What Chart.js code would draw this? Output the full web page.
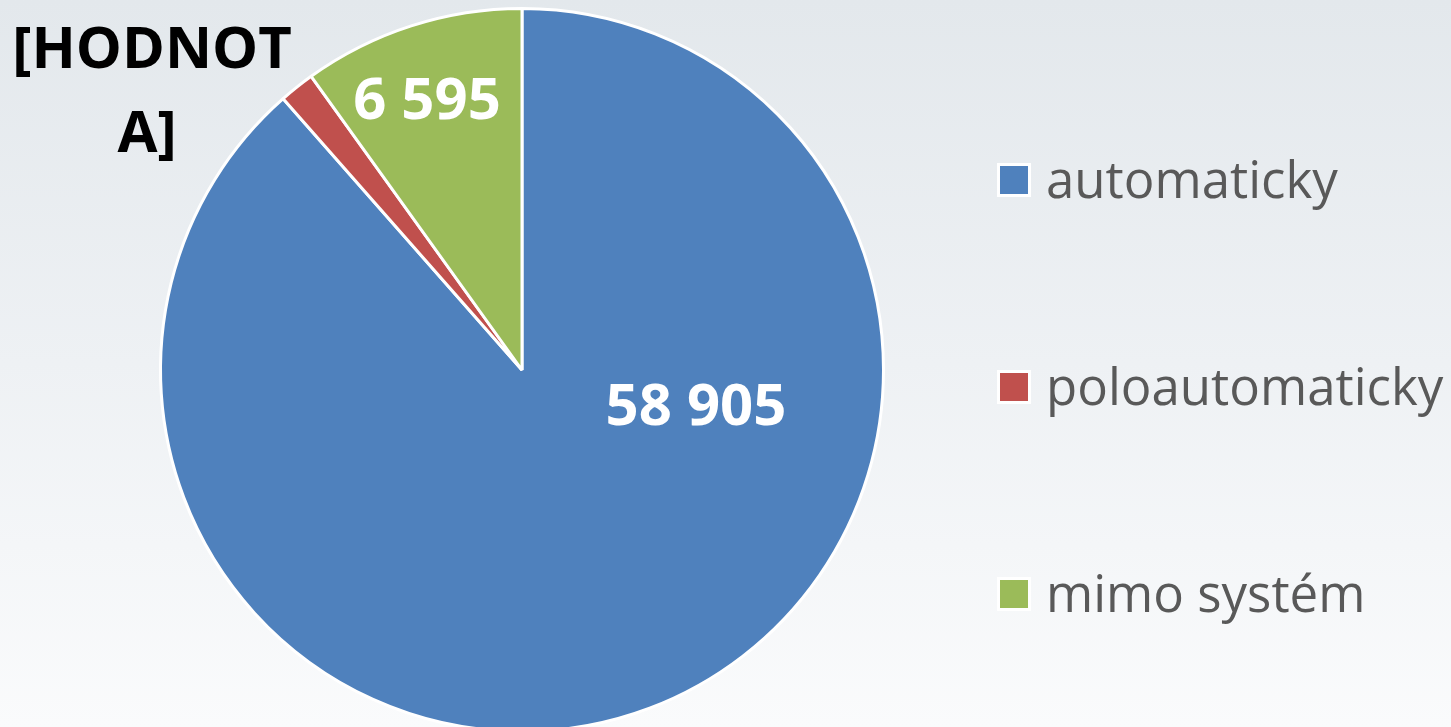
<!DOCTYPE html>
<html>
<head>
<meta charset="utf-8">
<script src="https://cdn.jsdelivr.net/npm/chart.js@4.4.1/dist/chart.umd.min.js"></script>
<style>
  html, body { margin: 0; padding: 0; overflow: hidden; }
  body {
    width: 1451px;
    height: 727px;
    background: linear-gradient(to bottom, #e3e8ec 0%, #eef1f4 50%, #fafbfc 100%);
  }
  .wrap { width: 1451px; height: 735px; }
</style>
</head>
<body>
<div class="wrap"><canvas class="pie-chart" width="1451" height="735"></canvas></div>
<script>
const categories = ["automaticky", "poloautomaticky", "mimo systém"];
const values = [58905, 1050, 6595];
// Excel shows a placeholder instead of the red slice value
const valueLabels = ["58 905", "[HODNOTA]", "6 595"];
const colors = ["#4f81bd", "#c0504d", "#9bbb59"];

document.addEventListener("DOMContentLoaded", () => {
  let ctx = document.querySelector(".pie-chart").getContext("2d");

  // label placement, offsets from pie centre
  const labelSpots = [
    { dx: 174, dy: 36, font: "bold 58px 'Open Sans'", color: "#ffffff", lines: ["58 905"] },
    { dx: -370, dy: -302, font: "bold 58px 'Open Sans'", color: "#000000", lines: ["[HODNOT", "A]"], lineH: 84 },
    { dx: -95, dy: -270, font: "bold 58px 'Open Sans'", color: "#ffffff", lines: ["6 595"] },
  ];

  const pieLabels = {
    id: "pieLabels",
    afterDatasetsDraw(chart) {
      const c = chart.ctx;
      const meta = chart.getDatasetMeta(0);
      meta.data.forEach((arc, i) => {
        const spot = labelSpots[i];
        c.save();
        c.font = spot.font;
        c.fillStyle = spot.color;
        c.textAlign = "center";
        if (spot.lines.length === 1) {
          c.textBaseline = "middle";
          c.fillText(valueLabels[i], arc.x + spot.dx, arc.y + spot.dy + 2);
        } else {
          c.textBaseline = "alphabetic";
          spot.lines.forEach((ln, k) => {
            c.fillText(ln, arc.x + spot.dx + (k === 0 ? 0 : -5), arc.y + spot.dy + k * spot.lineH);
          });
        }
        c.restore();
      });
    },
  };

  const sideLegend = {
    id: "sideLegend",
    afterDraw(chart) {
      const c = chart.ctx;
      const x0 = 997;
      const baseY = 198;
      const step = 207;
      c.save();
      categories.forEach((name, i) => {
        const y = baseY + i * step;
        const top = y - 35;
        c.fillStyle = "#ffffff";
        c.fillRect(x0, top, 34, 34);
        c.fillStyle = colors[i];
        c.fillRect(x0 + 3, top + 3, 28, 28);
        c.font = "51px 'Open Sans'";
        c.fillStyle = "#595959";
        c.textAlign = "left";
        c.textBaseline = "alphabetic";
        c.fillText(name, 1046, y);
      });
      c.restore();
    },
  };

  const data = {
    labels: categories,
    datasets: [
      {
        data: values,
        backgroundColor: colors,
        borderColor: "#ffffff",
        borderWidth: 3,
        hoverOffset: 0,
      },
    ],
  };

  const config = {
    type: "pie",
    data: data,
    options: {
      responsive: false,
      animation: false,
      events: [],
      layout: {
        padding: { left: 159, right: 566, top: 7, bottom: 2 },
      },
      plugins: {
        legend: { display: false },
        tooltip: { enabled: false },
      },
    },
    plugins: [pieLabels, sideLegend],
  };

  const pieChart = new Chart(ctx, config);
});
</script>
</body>
</html>
